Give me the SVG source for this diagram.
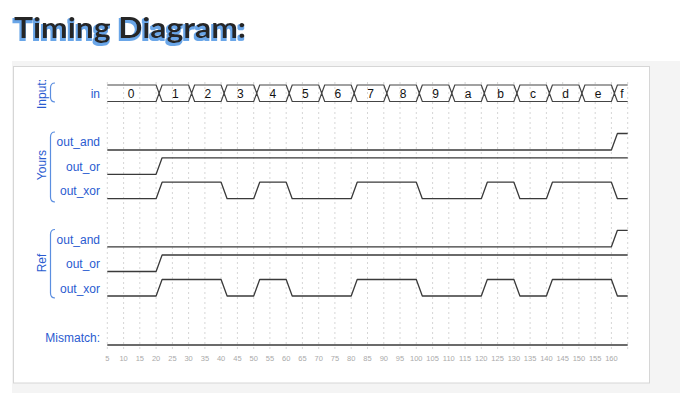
<svg xmlns="http://www.w3.org/2000/svg" width="680" height="406" viewBox="0 0 680 406">
<style>
.lbl{font-family:"Liberation Sans",Arial,sans-serif;font-size:12px;fill:#2a5bd0;text-anchor:end}
.grp{font-family:"Liberation Sans",Arial,sans-serif;font-size:12px;fill:#2a5bd0;text-anchor:middle}
.brace{fill:none;stroke:#5b8ee0;stroke-width:1.2}
.wave{fill:none;stroke:#3a3a3a;stroke-width:1.3;stroke-linejoin:round}
.bus{fill:none;stroke:#444;stroke-width:1.2}
.val{font-family:"Liberation Sans",Arial,sans-serif;font-size:12px;fill:#111;text-anchor:middle}
.tick{font-family:"Liberation Sans",Arial,sans-serif;font-size:7.5px;fill:#aaa;text-anchor:middle}
.grid{stroke:#d6d6d6;stroke-width:1;stroke-dasharray:2,3}
.title{font-family:Lato,"Open Sans",sans-serif;font-weight:bold;font-size:28px}
</style>
<defs>
<filter id="tshadow" x="-5%" y="-20%" width="110%" height="150%">
<feMorphology in="SourceAlpha" operator="dilate" radius="0.6" result="d"/>
<feOffset in="d" dx="-1" dy="1.8" result="o"/>
<feFlood flood-color="#6aa6e8"/>
<feComposite in2="o" operator="in" result="s"/>
<feMerge><feMergeNode in="s"/><feMergeNode in="SourceGraphic"/></feMerge>
</filter>
</defs>
<rect width="680" height="406" fill="#ffffff"/>
<rect x="12" y="61" width="668" height="332" fill="#f4f4f4"/>
<rect x="13.5" y="66.5" width="636" height="316.5" fill="#ffffff" stroke="#d6d6d6" stroke-width="1"/>

<g id="title">
<text x="14" y="37.7" class="title" fill="#262626" filter="url(#tshadow)" textLength="232" lengthAdjust="spacingAndGlyphs">Timing Diagram:</text>
</g>

<g id="grid">
<line class="grid" x1="107.3" y1="82" x2="107.3" y2="352"/>
<line class="grid" x1="123.6" y1="82" x2="123.6" y2="352"/>
<line class="grid" x1="139.8" y1="82" x2="139.8" y2="352"/>
<line class="grid" x1="156.1" y1="82" x2="156.1" y2="352"/>
<line class="grid" x1="172.4" y1="82" x2="172.4" y2="352"/>
<line class="grid" x1="188.6" y1="82" x2="188.6" y2="352"/>
<line class="grid" x1="204.9" y1="82" x2="204.9" y2="352"/>
<line class="grid" x1="221.1" y1="82" x2="221.1" y2="352"/>
<line class="grid" x1="237.4" y1="82" x2="237.4" y2="352"/>
<line class="grid" x1="253.7" y1="82" x2="253.7" y2="352"/>
<line class="grid" x1="269.9" y1="82" x2="269.9" y2="352"/>
<line class="grid" x1="286.2" y1="82" x2="286.2" y2="352"/>
<line class="grid" x1="302.4" y1="82" x2="302.4" y2="352"/>
<line class="grid" x1="318.7" y1="82" x2="318.7" y2="352"/>
<line class="grid" x1="334.9" y1="82" x2="334.9" y2="352"/>
<line class="grid" x1="351.2" y1="82" x2="351.2" y2="352"/>
<line class="grid" x1="367.5" y1="82" x2="367.5" y2="352"/>
<line class="grid" x1="383.8" y1="82" x2="383.8" y2="352"/>
<line class="grid" x1="400.0" y1="82" x2="400.0" y2="352"/>
<line class="grid" x1="416.3" y1="82" x2="416.3" y2="352"/>
<line class="grid" x1="432.6" y1="82" x2="432.6" y2="352"/>
<line class="grid" x1="448.8" y1="82" x2="448.8" y2="352"/>
<line class="grid" x1="465.1" y1="82" x2="465.1" y2="352"/>
<line class="grid" x1="481.3" y1="82" x2="481.3" y2="352"/>
<line class="grid" x1="497.6" y1="82" x2="497.6" y2="352"/>
<line class="grid" x1="513.9" y1="82" x2="513.9" y2="352"/>
<line class="grid" x1="530.1" y1="82" x2="530.1" y2="352"/>
<line class="grid" x1="546.4" y1="82" x2="546.4" y2="352"/>
<line class="grid" x1="562.7" y1="82" x2="562.7" y2="352"/>
<line class="grid" x1="578.9" y1="82" x2="578.9" y2="352"/>
<line class="grid" x1="595.2" y1="82" x2="595.2" y2="352"/>
<line class="grid" x1="611.4" y1="82" x2="611.4" y2="352"/>
<line class="grid" x1="627.7" y1="82" x2="627.7" y2="352"/>
</g>

<g id="ticks">
<text class="tick" x="107.3" y="360.5">5</text>
<text class="tick" x="123.6" y="360.5">10</text>
<text class="tick" x="139.8" y="360.5">15</text>
<text class="tick" x="156.1" y="360.5">20</text>
<text class="tick" x="172.4" y="360.5">25</text>
<text class="tick" x="188.6" y="360.5">30</text>
<text class="tick" x="204.9" y="360.5">35</text>
<text class="tick" x="221.1" y="360.5">40</text>
<text class="tick" x="237.4" y="360.5">45</text>
<text class="tick" x="253.7" y="360.5">50</text>
<text class="tick" x="269.9" y="360.5">55</text>
<text class="tick" x="286.2" y="360.5">60</text>
<text class="tick" x="302.4" y="360.5">65</text>
<text class="tick" x="318.7" y="360.5">70</text>
<text class="tick" x="334.9" y="360.5">75</text>
<text class="tick" x="351.2" y="360.5">80</text>
<text class="tick" x="367.5" y="360.5">85</text>
<text class="tick" x="383.8" y="360.5">90</text>
<text class="tick" x="400.0" y="360.5">95</text>
<text class="tick" x="416.3" y="360.5">100</text>
<text class="tick" x="432.6" y="360.5">105</text>
<text class="tick" x="448.8" y="360.5">110</text>
<text class="tick" x="465.1" y="360.5">115</text>
<text class="tick" x="481.3" y="360.5">120</text>
<text class="tick" x="497.6" y="360.5">125</text>
<text class="tick" x="513.9" y="360.5">130</text>
<text class="tick" x="530.1" y="360.5">135</text>
<text class="tick" x="546.4" y="360.5">140</text>
<text class="tick" x="562.7" y="360.5">145</text>
<text class="tick" x="578.9" y="360.5">150</text>
<text class="tick" x="595.2" y="360.5">155</text>
<text class="tick" x="611.4" y="360.5">160</text>
</g>

<g id="group-input">
<text class="grp" transform="translate(45.5,94) rotate(-90)">Input:</text>
<path class="brace" d="M55,83 Q50.5,83 50.5,88 L50.5,97 Q50.5,102 55,102"/>
</g>
<g id="group-yours">
<text class="grp" transform="translate(45.5,165) rotate(-90)">Yours</text>
<path class="brace" d="M55,132 Q50.5,132 50.5,137 L50.5,197 Q50.5,202 55,202"/>
</g>
<g id="group-ref">
<text class="grp" transform="translate(45.5,263) rotate(-90)">Ref</text>
<path class="brace" d="M55,229.5 Q50.5,229.5 50.5,234.5 L50.5,293 Q50.5,298 55,298"/>
</g>

<g id="sig-in">
<text class="lbl" x="100" y="97.6">in</text>
<path class="bus" d="M107.3,85 L156.1,85 L159.1,93.3 L162.1,85 L188.6,85 L191.6,93.3 L194.6,85 L221.1,85 L224.1,93.3 L227.1,85 L253.7,85 L256.7,93.3 L259.7,85 L286.2,85 L289.2,93.3 L292.2,85 L318.7,85 L321.7,93.3 L324.7,85 L351.2,85 L354.2,93.3 L357.2,85 L383.8,85 L386.8,93.3 L389.8,85 L416.3,85 L419.3,93.3 L422.3,85 L448.8,85 L451.8,93.3 L454.8,85 L481.3,85 L484.3,93.3 L487.3,85 L513.9,85 L516.9,93.3 L519.9,85 L546.4,85 L549.4,93.3 L552.4,85 L578.9,85 L581.9,93.3 L584.9,85 L611.4,85 L614.4,93.3 L617.4,85 L627.7,85"/>
<path class="bus" d="M107.3,101.5 L156.1,101.5 L159.1,93.3 L162.1,101.5 L188.6,101.5 L191.6,93.3 L194.6,101.5 L221.1,101.5 L224.1,93.3 L227.1,101.5 L253.7,101.5 L256.7,93.3 L259.7,101.5 L286.2,101.5 L289.2,93.3 L292.2,101.5 L318.7,101.5 L321.7,93.3 L324.7,101.5 L351.2,101.5 L354.2,93.3 L357.2,101.5 L383.8,101.5 L386.8,93.3 L389.8,101.5 L416.3,101.5 L419.3,93.3 L422.3,101.5 L448.8,101.5 L451.8,93.3 L454.8,101.5 L481.3,101.5 L484.3,93.3 L487.3,101.5 L513.9,101.5 L516.9,93.3 L519.9,101.5 L546.4,101.5 L549.4,93.3 L552.4,101.5 L578.9,101.5 L581.9,93.3 L584.9,101.5 L611.4,101.5 L614.4,93.3 L617.4,101.5 L627.7,101.5"/>
<text class="val" x="131" y="97.6">0</text>
<text class="val" x="175.4" y="97.6">1</text>
<text class="val" x="207.9" y="97.6">2</text>
<text class="val" x="240.4" y="97.6">3</text>
<text class="val" x="272.9" y="97.6">4</text>
<text class="val" x="305.4" y="97.6">5</text>
<text class="val" x="337.9" y="97.6">6</text>
<text class="val" x="370.5" y="97.6">7</text>
<text class="val" x="403.0" y="97.6">8</text>
<text class="val" x="435.6" y="97.6">9</text>
<text class="val" x="468.1" y="97.6">a</text>
<text class="val" x="500.6" y="97.6">b</text>
<text class="val" x="533.1" y="97.6">c</text>
<text class="val" x="565.7" y="97.6">d</text>
<text class="val" x="598.2" y="97.6">e</text>
<text class="val" x="622" y="97.6">f</text>
</g>

<g id="yours-out_and">
<text class="lbl" x="100" y="146.2">out_and</text>
<path class="wave" d="M107.3,150 H611.4 L617.4,133.5 H627.7"/>
</g>
<g id="yours-out_or">
<text class="lbl" x="100" y="170.5">out_or</text>
<path class="wave" d="M107.3,174.3 H156.1 L162.1,157.8 H627.7"/>
</g>
<g id="yours-out_xor">
<text class="lbl" x="100" y="194.8">out_xor</text>
<path class="wave" d="M107.3,198.7 H156.1 L162.1,182.2 H221.1 L227.1,198.7 H253.7 L259.7,182.2 H286.2 L292.2,198.7 H351.2 L357.2,182.2 H416.3 L422.3,198.7 H481.3 L487.3,182.2 H513.9 L519.9,198.7 H546.4 L552.4,182.2 H611.4 L617.4,198.7 H627.7"/>
</g>

<g id="ref-out_and">
<text class="lbl" x="100" y="243.5">out_and</text>
<path class="wave" d="M107.3,246.8 H611.4 L617.4,230.3 H627.7"/>
</g>
<g id="ref-out_or">
<text class="lbl" x="100" y="268">out_or</text>
<path class="wave" d="M107.3,271.5 H156.1 L162.1,255 H627.7"/>
</g>
<g id="ref-out_xor">
<text class="lbl" x="100" y="292.6">out_xor</text>
<path class="wave" d="M107.3,296 H156.1 L162.1,279.5 H221.1 L227.1,296 H253.7 L259.7,279.5 H286.2 L292.2,296 H351.2 L357.2,279.5 H416.3 L422.3,296 H481.3 L487.3,279.5 H513.9 L519.9,296 H546.4 L552.4,279.5 H611.4 L617.4,296 H627.7"/>
</g>

<g id="mismatch">
<text class="lbl" x="100" y="341.6">Mismatch:</text>
<path class="wave" d="M107.3,345 H627.7"/>
</g>
</svg>
